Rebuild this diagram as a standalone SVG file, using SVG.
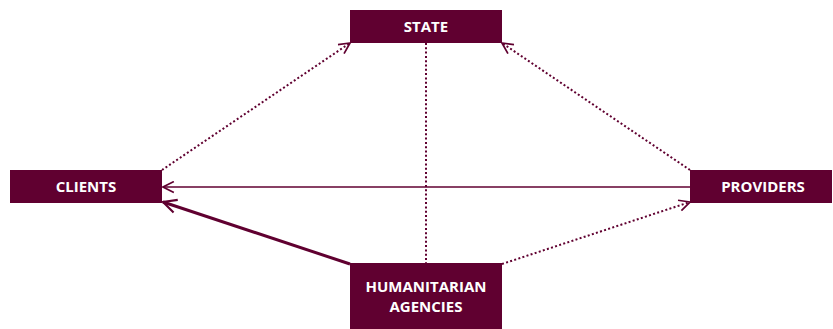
<svg xmlns="http://www.w3.org/2000/svg" width="833" height="329" viewBox="0 0 833 329">
<defs>
<style>
.box{fill:#600030}
.lbl{fill:#fff;font-family:"Open Sans","Liberation Sans",sans-serif;font-weight:bold;font-size:15px;text-anchor:middle}
.dot{stroke:#600030;stroke-width:2;stroke-dasharray:2 2.3;fill:none}
.thin{stroke:#600030;stroke-width:1.3;fill:none}
.thick{stroke:#600030;stroke-width:3;fill:none}
</style>
<marker id="arr" viewBox="0 0 12 12" refX="11" refY="6" markerWidth="13" markerHeight="13" markerUnits="userSpaceOnUse" orient="auto">
<path d="M1,1 L11,6 L1,11" fill="none" stroke="#600030" stroke-width="1.6"/>
</marker>
<marker id="arrT" viewBox="0 0 12 12" refX="11" refY="6" markerWidth="16" markerHeight="16" markerUnits="userSpaceOnUse" orient="auto">
<path d="M1,1 L11,6 L1,11" fill="none" stroke="#600030" stroke-width="1.6"/>
</marker>
</defs>
<g id="connectors">
<line class="dot" x1="162" y1="170" x2="350" y2="43" marker-end="url(#arr)"/>
<line class="dot" x1="690" y1="170" x2="502" y2="43" marker-end="url(#arr)"/>
<line class="thin" x1="690" y1="187" x2="163" y2="187" marker-end="url(#arr)"/>
<line class="thick" x1="350" y1="264" x2="163" y2="202" marker-end="url(#arrT)"/>
<line class="dot" x1="502" y1="264" x2="690" y2="202" marker-end="url(#arr)"/>
<line class="dot" x1="426" y1="43" x2="426" y2="263"/>
</g>
<g id="state"><rect class="box" x="350" y="10" width="152" height="33"/><text class="lbl" x="426" y="32">STATE</text></g>
<g id="clients"><rect class="box" x="10" y="170" width="152" height="33"/><text class="lbl" x="86" y="192">CLIENTS</text></g>
<g id="providers"><rect class="box" x="690" y="170" width="142" height="33"/><text class="lbl" x="763" y="192">PROVIDERS</text></g>
<g id="humanitarian"><rect class="box" x="350" y="263" width="152" height="66"/><text class="lbl" x="426" y="292">HUMANITARIAN</text><text class="lbl" x="426" y="312">AGENCIES</text></g>
</svg>
